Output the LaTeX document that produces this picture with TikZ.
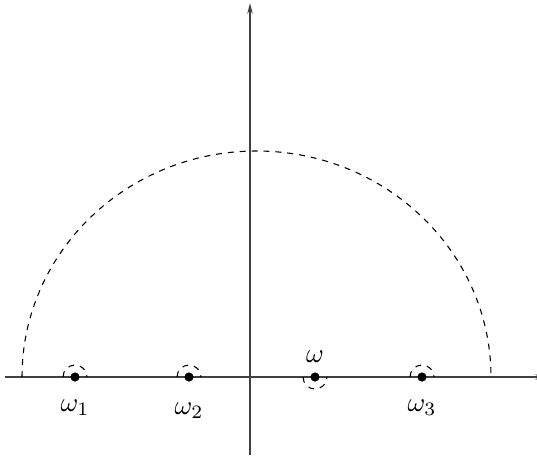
\documentclass[tikz,border=0pt]{standalone}
\usepackage{amsmath,amssymb}
\usetikzlibrary{arrows.meta,positioning}

\begin{document}
\begin{tikzpicture}[x=0.013cm,y=-0.013cm,
      ax/.style={-{Stealth[length=4pt,width=2pt]},black!75},
      pt/.style={circle,fill=black,inner sep=0pt,minimum size=3.4pt},
      dsh/.style={dashed,dash pattern=on 2.2pt off 2.2pt}]
      \useasboundingbox (0,0) rectangle (537,458);
      % axes
      \coordinate (xl) at (5,377); \coordinate (xr) at (546,377);
      \coordinate (yb) at (250,455); \coordinate (yt) at (250,3);
      \draw[ax] (xl)--(xr);
      \draw[ax] (yb)--(yt);
      % big contour
      \draw[dsh] (22,377) arc[start angle=180,end angle=360,x radius=234.5,y radius=226];
      % poles
      \node[pt] (w1) at (75,377) {};
      \node[pt] (w2) at (189,377) {};
      \node[pt] (w) at (315,377) {};
      \node[pt] (w3) at (422,377) {};
      \draw[dsh] (63,377) arc[start angle=180,end angle=360,radius=12];
      \draw[dsh] (177,377) arc[start angle=180,end angle=360,radius=12];
      \draw[dsh] (303,377) arc[start angle=180,end angle=0,radius=12];
      \draw[dsh] (410,377) arc[start angle=180,end angle=360,radius=12];
      \node[below=3pt of w1] (l1) {$\omega_1$};
      \node[below=4pt of w2] (l2) {$\omega_2$};
      \node[above=0pt of w] (l) {$\omega$};
      \node[below=3pt of w3] (l3) {$\omega_3$};
    \end{tikzpicture}
\end{document}
